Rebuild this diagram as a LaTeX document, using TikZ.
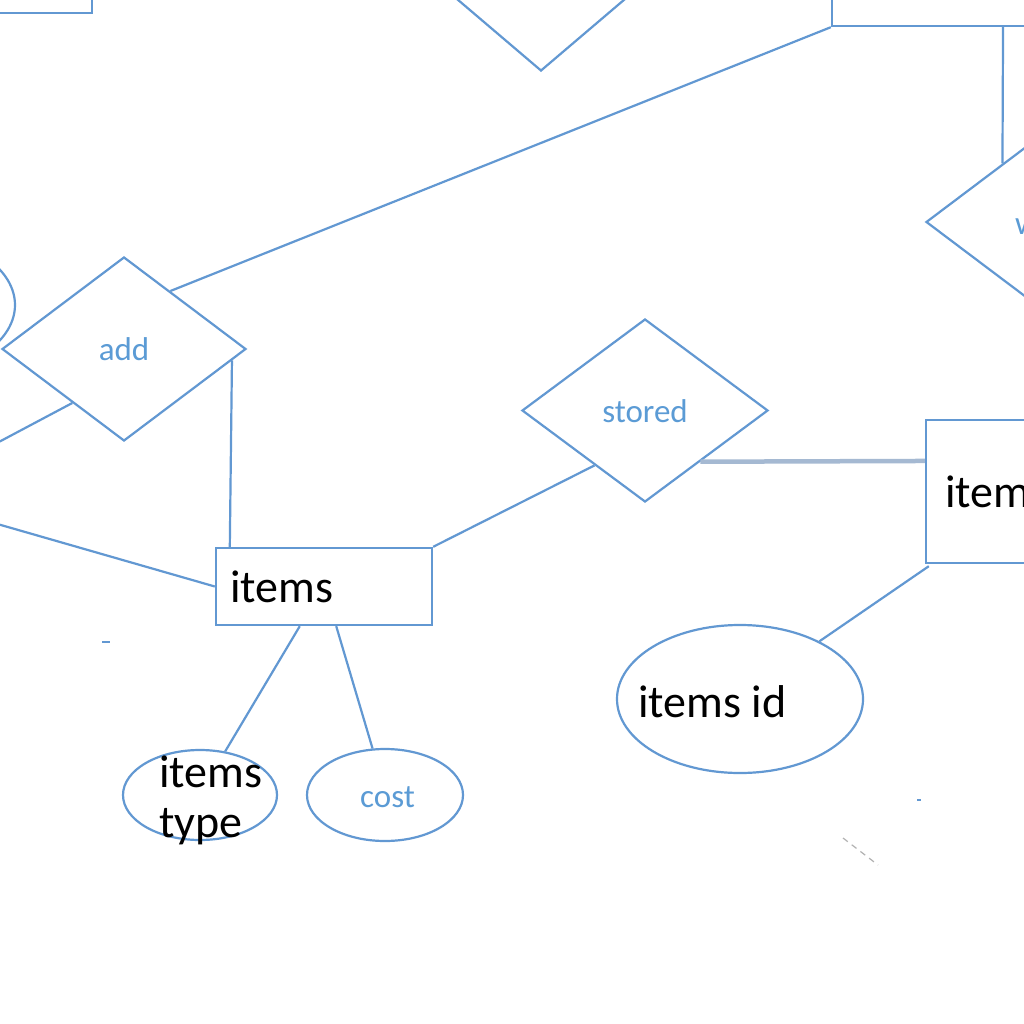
\documentclass[tikz,border=0pt]{standalone}
\usepackage{fontspec}
\setmainfont{Carlito}
\usetikzlibrary{shapes.geometric,calc}
\definecolor{erline}{RGB}{98,152,210}
\definecolor{ertext}{RGB}{91,155,213}
\definecolor{thickgray}{RGB}{165,185,210}
\tikzset{
  x=1pt,y=-1pt,
  ent/.style={draw=erline,line width=2.4pt,rectangle,inner sep=0pt},
  rel/.style={draw=erline,line width=2.2pt,diamond,inner sep=0pt},
  attr/.style={draw=erline,line width=2.2pt,ellipse,inner sep=0pt},
  conn/.style={draw=erline,line width=2.2pt},
  bigtxt/.style={text=black,font=\fontsize{46}{52}\selectfont,inner sep=0pt,anchor=base west},
  smalltxt/.style={text=ertext,font=\fontsize{33}{38}\selectfont,inner sep=0pt,anchor=base},
}
\begin{document}
\begin{tikzpicture}
\useasboundingbox (0,0) rectangle (1024,1024);
\clip (0,0) rectangle (1024,1024);
\fill[white] (0,0) rectangle (1024,1024);

% entities
\node[ent,minimum width=192pt,minimum height=73pt] (tl) at (-4,-23.5) {};
\node[ent,minimum width=268pt,minimum height=86pt] (tr) at (966,-17) {};
\node[ent,minimum width=216pt,minimum height=77pt] (items) at (324,586.5) {};
\node[bigtxt] (itemsT) at ($(items.center)+(-94,15.5)$) {items};
\node[ent,minimum width=200pt,minimum height=143pt] (items2) at (1026,491.5) {};
\node[bigtxt] (items2T) at ($(items2.center)+(-81,15.5)$) {item};

% relationships
\node[rel,minimum width=216pt,minimum height=184pt] (topd) at (541,-21) {};
\node[rel,minimum width=244pt,minimum height=184pt] (wd) at (1048,222) {};
\node[smalltxt,anchor=base west] (wdT) at ($(wd.center)+(-33,13)$) {w};
\node[rel,minimum width=244pt,minimum height=184pt] (add) at (124,349) {};
\node[smalltxt] (addT) at ($(add.center)+(0,11)$) {add};
\node[rel,minimum width=246pt,minimum height=183pt] (stored) at (645,410.5) {};
\node[smalltxt] (storedT) at ($(stored.center)+(0,11.5)$) {stored};

% attributes
\node[attr,minimum width=250pt,minimum height=148pt] (leftattr) at (-110,305) {};
\node[attr,minimum width=246pt,minimum height=148pt] (iid) at (740,699) {};
\node[bigtxt] (iidT) at ($(iid.center)+(-102,18)$) {items id};
\node[attr,minimum width=154pt,minimum height=90pt] (itype) at (200,795) {};
\node[bigtxt] (itypeT1) at ($(itype.center)+(-41,-7.5)$) {items};
\node[bigtxt] (itypeT2) at ($(itype.center)+(-41,42)$) {type};
\node[attr,minimum width=156pt,minimum height=92pt] (cost) at (385,795) {};
\node[smalltxt] (costT) at ($(cost.center)+(2.5,12)$) {cost};

% free ends at the left border
\coordinate (lfA) at (-20,452);
\coordinate (lfB) at (-20,519);

% connectors
\draw[conn] ($(add.north)!0.377!(add.east)$) -- (tr.south west);
\draw[conn] ($(add.east)!0.123!(add.south)$) -- ($(items.north west)+(15,0)$);
\draw[conn] ($(add.west)!0.58!(add.south)$) -- (lfA);
\draw[conn] (lfB) -- (items.west);
\draw[conn] (items.north east) -- ($(stored.west)!0.593!(stored.south)$);
\draw[draw=thickgray,line width=4.5pt] ($(stored.east)!0.553!(stored.south)$) -- ($(items2.north west)!0.29!(items2.south west)$);
\draw[conn] ($(items2.south west)+(4,2)$) -- (iid.36);
\draw[conn] ($(items.south west)!0.389!(items.south east)$) -- (itype.60);
\draw[conn] ($(items.south west)!0.556!(items.south east)$) -- (cost.105);
\draw[conn] ($(tr.south west)!0.637!(tr.south east)$) -- ($(wd.west)!0.63!(wd.north)$);

% faint marks
\draw[erline,line width=1.5pt] (102,642) -- (110,642);
\draw[erline,line width=1.5pt] (917,800) -- (921,800);
\draw[gray!60,line width=1.2pt,dash pattern=on 6pt off 5pt] (843,838) -- (878,865);
\end{tikzpicture}
\end{document}
